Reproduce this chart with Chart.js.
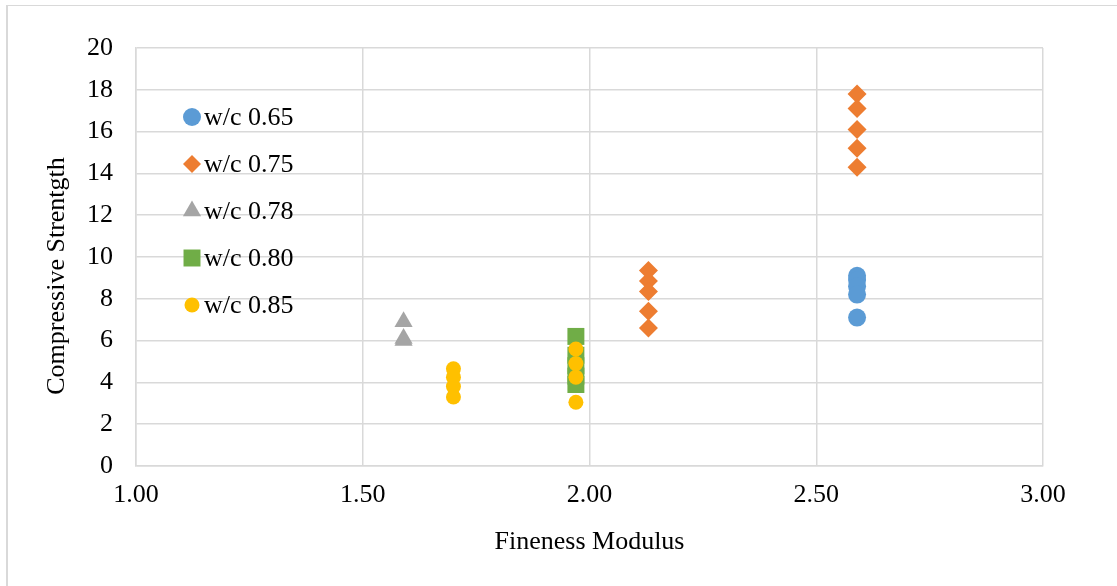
<!DOCTYPE html>
<html>
<head>
<meta charset="utf-8">
<script src="https://cdn.jsdelivr.net/npm/chart.js@4.4.0/dist/chart.umd.min.js"></script>
<style>
  html, body { margin: 0; padding: 0; background: #fff; overflow: hidden; }
  #wrap { position: relative; width: 1117px; height: 586px; overflow: hidden; }
  #frame { position: absolute; left: 6px; top: 5px; width: 1111px; height: 581px; border-left: 2px solid #d9d9d9; border-top: 1px solid #d9d9d9; box-sizing: border-box; pointer-events: none; }
</style>
</head>
<body>
<div id="wrap">
  <canvas id="strength" width="1117" height="586"></canvas>
  <div id="frame"></div>
</div>
<script>
// series labels
const seriesNames = ["w/c 0.65", "w/c 0.75", "w/c 0.78", "w/c 0.80", "w/c 0.85"];

// fineness modulus / compressive strength, per series
const fm065 = [2.59, 2.59, 2.59, 2.59, 2.59];
const cs065 = [9.1, 8.9, 8.6, 8.2, 7.1];

const fm075 = [2.59, 2.59, 2.59, 2.59, 2.59, 2.13, 2.13, 2.13, 2.13, 2.13];
const cs075 = [17.8, 17.1, 16.1, 15.2, 14.3, 9.35, 8.85, 8.35, 7.4, 6.6];

const fm078 = [1.59, 1.59, 1.59];
const cs078 = [6.9, 6.1, 6.0];

const fm080 = [1.97, 1.97, 1.97, 1.97, 1.97];
const cs080 = [6.2, 5.3, 4.8, 4.3, 3.9];

const fm085 = [1.70, 1.70, 1.70, 1.70, 1.97, 1.97, 1.97, 1.97];
const cs085 = [4.65, 4.25, 3.8, 3.3, 5.6, 4.9, 4.25, 3.05];

const xTicks = [1.0, 1.5, 2.0, 2.5, 3.0];

const colors = ["#5b9bd5", "#ed7d31", "#a5a5a5", "#70ad47", "#ffc000"];
const shapes = ["circle", "rectRot", "triangle", "rect", "circle"];
const sizes = [9, 9.5, 10.5, 12, 7.5];
const legendSizes = [9, 9, 10.5, 12, 7.5];

const toPoints = (xs, ys) => xs.map((x, i) => ({ x: x, y: ys[i] }));
const seriesData = [
  toPoints(fm065, cs065),
  toPoints(fm075, cs075),
  toPoints(fm078, cs078),
  toPoints(fm080, cs080),
  toPoints(fm085, cs085),
];

const serif = "'Liberation Serif', 'Times New Roman', serif";
const fontSize = 26;

// legend drawn inside the plot, like the original
const innerLegend = {
  id: "innerLegend",
  afterDraw(chart) {
    const ctx = chart.ctx;
    ctx.save();
    ctx.font = fontSize + "px " + serif;
    ctx.textBaseline = "middle";
    seriesNames.forEach((name, i) => {
      const y = 117 + i * 47;
      ctx.fillStyle = colors[i];
      Chart.helpers.drawPoint(ctx, {
        pointStyle: shapes[i],
        radius: legendSizes[i],
        rotation: 0
      }, 192, y);
      ctx.fillStyle = "#000";
      ctx.fillText(name, 204, y + 1);
    });
    ctx.restore();
  }
};

// y title sits a little below the plot centre in the original
const yTitle = {
  id: "yTitle",
  afterDraw(chart) {
    const ctx = chart.ctx;
    ctx.save();
    ctx.font = fontSize + "px " + serif;
    ctx.fillStyle = "#000";
    ctx.textAlign = "center";
    ctx.textBaseline = "middle";
    ctx.translate(57, 276);
    ctx.rotate(-Math.PI / 2);
    ctx.fillText("Compressive Strentgth", 0, 0);
    ctx.restore();
  }
};

const datasets = seriesData.map((pts, i) => ({
  label: seriesNames[i],
  data: pts,
  backgroundColor: colors[i],
  borderColor: colors[i],
  borderWidth: 0,
  pointStyle: shapes[i],
  pointRadius: sizes[i],
  pointHoverRadius: sizes[i],
  order: 5 - i,
}));

new Chart(document.getElementById("strength"), {
  type: "scatter",
  data: { datasets: datasets },
  plugins: [innerLegend, yTitle],
  options: {
    responsive: false,
    animation: false,
    layout: { padding: { left: 0, right: 74, top: 48, bottom: 24 } },
    plugins: {
      legend: { display: false },
      tooltip: { enabled: false },
    },
    scales: {
      x: {
        type: "linear",
        min: 1,
        max: 3,
        afterBuildTicks: (scale) => { scale.ticks = xTicks.map(v => ({ value: v })); },
        afterFit: (scale) => { scale.height = 96; },
        grid: { color: "#d9d9d9", lineWidth: 1.5, drawTicks: false },
        border: { color: "#d9d9d9", width: 1.5 },
        ticks: {
          color: "#000",
          font: { family: serif, size: fontSize },
          padding: 14,
          callback: (v) => Number(v).toFixed(2),
        },
        title: {
          display: true,
          text: "Fineness Modulus",
          color: "#000",
          font: { family: serif, size: fontSize },
        },
      },
      y: {
        min: 0,
        max: 20,
        afterFit: (scale) => { scale.width = 136; },
        grid: { color: "#d9d9d9", lineWidth: 1.5, drawTicks: false },
        border: { color: "#d9d9d9", width: 1.5 },
        ticks: {
          stepSize: 2,
          color: "#000",
          font: { family: serif, size: fontSize },
          padding: 23,
        },
      },
    },
  },
});
</script>
</body>
</html>
